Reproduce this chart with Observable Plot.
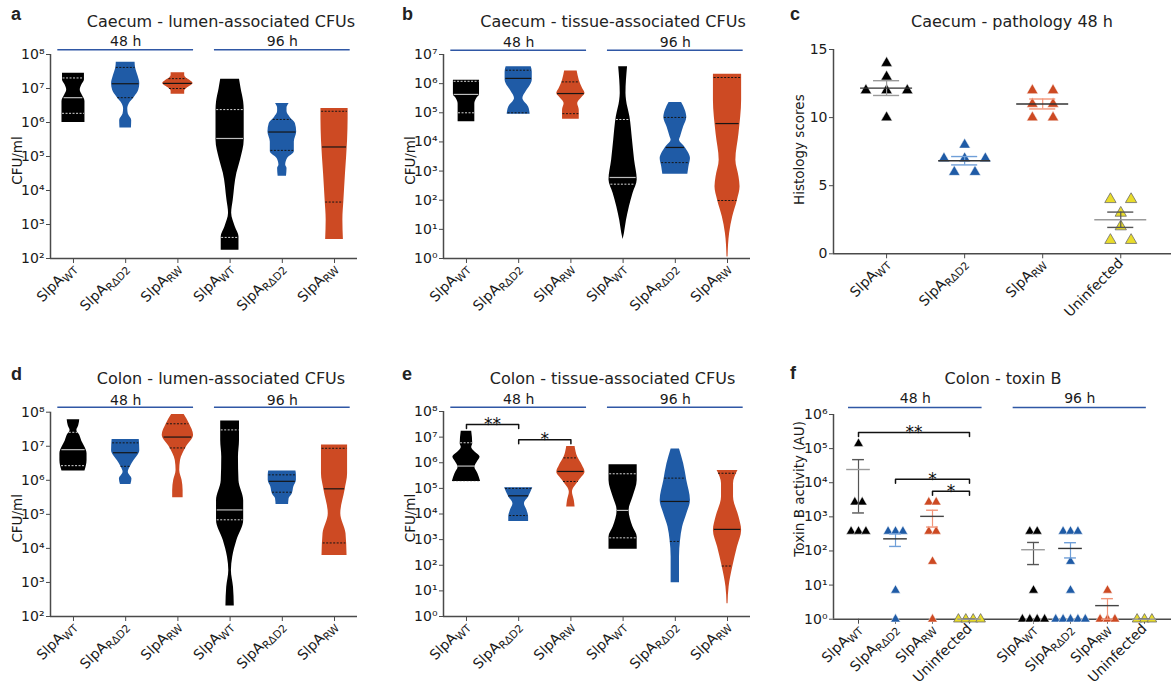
<!DOCTYPE html>
<html><head><meta charset="utf-8">
<script src="https://cdn.jsdelivr.net/npm/d3@7"></script>
<script src="https://cdn.jsdelivr.net/npm/@observablehq/plot@0.6"></script>
<style>
body{margin:0;background:#fff;}
#fig{position:relative;width:1171px;height:684px;overflow:hidden;font-family:"DejaVu Sans",sans-serif;background:#fff;}
.t{position:absolute;white-space:nowrap;line-height:1;color:#222;}
</style></head><body><div id="fig"></div>
<script>
// ================= DATA =================
const violinLabels = ["SlpA_WT", "SlpA_RΔD2", "SlpA_RW", "SlpA_WT", "SlpA_RΔD2", "SlpA_RW"];
const violinSpans = [{label: "48 h", from: -0.3, to: 2.3}, {label: "96 h", from: 2.7, to: 5.3}];

// violin profiles: [log10 CFU/ml, half-width as fraction of category step]
// order: WT 48h, RΔD2 48h, RW 48h, WT 96h, RΔD2 96h, RW 96h
const caecumLumenProfiles = [
  [[6.0,.22],[6.3,.22],[6.62,.22],[6.8,.17],[6.95,.13],[7.1,.16],[7.25,.21],[7.45,.21]],
  [[5.84,.11],[6.06,.115],[6.25,.05],[6.4,.04],[6.55,.07],[6.75,.17],[6.95,.25],[7.14,.27],[7.35,.24],[7.6,.19],[7.77,.18]],
  [[6.83,.13],[6.92,.13],[7.0,.17],[7.07,.24],[7.15,.29],[7.23,.24],[7.31,.16],[7.38,.13],[7.46,.13]],
  [[2.24,.17],[2.64,.17],[2.93,.1],[3.33,.03],[3.71,.06],[4.51,.13],[4.9,.2],[5.48,.27],[6.0,.27],[6.36,.27],[6.6,.26],[7.0,.21],[7.27,.18]],
  [[4.42,.08],[4.65,.09],[4.74,.065],[4.94,.1],[5.14,.23],[5.43,.23],[5.72,.275],[5.97,.25],[6.15,.15],[6.32,.09],[6.42,.09],[6.56,.13]],
  [[2.56,.17],[3.13,.16],[3.71,.18],[4.5,.21],[5.48,.25],[6.1,.26],[6.41,.26]]
];
const caecumLumenQuartiles = [[6.27,6.73,7.31],[6.73,7.14,7.62],[7.0,7.15,7.29],[2.62,5.53,6.38],[5.18,5.72,6.09],[3.66,5.28,6.33]];

const caecumTissueProfiles = [
  [[4.69,.16],[5.3,.16],[5.5,.2],[5.62,.25],[6.12,.25]],
  [[4.95,.22],[5.2,.19],[5.49,.08],[5.75,.15],[6.0,.24],[6.12,.26],[6.4,.26],[6.58,.24]],
  [[4.78,.16],[5.09,.16],[5.32,.13],[5.5,.2],[5.66,.27],[5.85,.22],[6.12,.16],[6.43,.12]],
  [[0.65,0],[0.86,.025],[1.31,.065],[1.77,.12],[2.23,.19],[2.69,.27],[3.37,.22],[4.06,.18],[4.86,.13],[5.43,.065],[5.66,.055],[6.58,.085]],
  [[2.89,.24],[3.14,.26],[3.43,.29],[3.6,.26],[3.85,.17],[4.06,.08],[4.17,.1],[4.52,.16],[4.84,.22],[5.09,.19],[5.35,.12]],
  [[0.05,.01],[0.86,.04],[1.43,.1],[2.0,.19],[2.46,.24],[2.8,.22],[3.37,.16],[4.29,.22],[5.43,.27],[6.32,.27]]
];
const caecumTissueQuartiles = [[5.0,5.63,6.08],[5.0,6.18,6.46],[4.97,5.66,6.06],[2.55,2.78,4.77],[3.29,3.81,4.84],[1.99,4.63,6.21]];

const colonLumenProfiles = [
  [[6.27,.22],[6.58,.26],[6.78,.26],[6.97,.22],[7.15,.16],[7.32,.12],[7.46,.065],[7.6,.1],[7.78,.12]],
  [[5.88,.1],[6.04,.12],[6.24,.05],[6.4,.09],[6.58,.16],[6.87,.27],[7.2,.26]],
  [[5.49,.1],[5.7,.1],[6.0,.08],[6.29,.035],[6.58,.05],[6.97,.16],[7.32,.3],[7.66,.22],[7.93,.12]],
  [[2.31,.08],[2.86,.065],[3.35,.025],[3.74,.05],[4.23,.13],[4.82,.26],[5.4,.26],[5.99,.17],[6.68,.16],[7.17,.18],[7.74,.18]],
  [[5.29,.12],[5.46,.13],[5.6,.19],[5.8,.22],[6.0,.27],[6.15,.27],[6.27,.26]],
  [[3.79,.24],[4.43,.22],[5.02,.12],[5.7,.2],[6.19,.25],[7.04,.25]]
];
const colonLumenQuartiles = [[6.43,6.9,7.41],[6.41,6.81,7.1],[6.95,7.27,7.66],[4.84,5.13,7.48],[5.65,5.97,6.16],[4.16,5.75,6.94]];

const colonTissueProfiles = [
  [[5.27,.27],[5.57,.22],[5.83,.16],[6.0,.2],[6.22,.26],[6.45,.15],[6.6,.1],[6.74,.12],[7.23,.1]],
  [[3.71,.19],[3.88,.19],[4.14,.16],[4.4,.11],[4.66,.19],[5.02,.27]],
  [[4.27,.08],[4.53,.065],[4.85,.03],[5.31,.16],[5.63,.27],[5.89,.22],[6.22,.13],[6.63,.08]],
  [[2.62,.27],[3.1,.27],[3.49,.19],[4.14,.115],[4.66,.19],[5.31,.27],[5.92,.27]],
  [[1.32,.08],[2.32,.08],[2.97,.1],[3.49,.14],[4.0,.22],[4.53,.29],[5.31,.22],[5.96,.16],[6.54,.08]],
  [[0.5,.01],[1.15,.03],[1.93,.1],[2.71,.19],[3.36,.27],[3.88,.22],[4.66,.115],[5.18,.115],[5.7,.2]]
];
const colonTissueQuartiles = [[5.27,5.87,6.78],[3.94,4.71,5.0],[5.27,5.66,6.19],[3.07,4.14,5.57],[2.93,4.49,5.4],[1.97,3.4,5.59]];
const colonTissueSig = [{from: 0, to: 1, y: 3.1e7, label: "**"}, {from: 1, to: 2, y: 7.9e6, label: "*"}];

const histologyLabels = ["SlpA_WT", "SlpA_RΔD2", "SlpA_RW", "Uninfected"];
const histologyScores = [[14,13,12,12,12,10],[8,7,7,7,6,6],[12,12,11,11,10,10],[4,4,3,2,1,1]];

const toxinLabels = ["SlpA_WT", "SlpA_RΔD2", "SlpA_RW", "Uninfected", "SlpA_WT", "SlpA_RΔD2", "SlpA_RW", "Uninfected"];
const toxinValues = [
  [1.4e5, 2700, 2700, 375, 375, 375],
  [375, 375, 375, 7, 1],
  [2700, 2700, 375, 375, 49, 1],
  [1, 1, 1, 1],
  [375, 375, 7, 1, 1, 1, 1],
  [375, 375, 375, 49, 7, 1, 1, 1, 1, 1],
  [7, 1, 1, 1],
  [1, 1, 1]
];
const toxinSpans = [{label: "48 h", from: -0.27, to: 3.34}, {label: "96 h", from: 4.18, to: 7.78}];
const toxinSig = [{from: 0, to: 3, y: 2.95e5, label: "**"}, {from: 1, to: 3, y: 1.26e4, label: "*"}, {from: 2, to: 3, y: 5.6e3, label: "*"}];

// ================= STYLE / HELPERS =================
const COL = ["#000000", "#1f5ba6", "#cd4a23", "#e9dc2a"];
const QCOL = ["#d6d6d6", "#151515", "#151515"];
const AXIS = "#4a4a4a";
const SPAN = "#2f57a5";
const FONT = "DejaVu Sans";
const SUP = "⁰¹²³⁴⁵⁶⁷⁸⁹";
const pow10 = d => "10" + String(Math.round(Math.log10(d))).split("").map(c => SUP[+c]).join("");
const fig = document.getElementById("fig");

function place(svg, left, top) {
  svg.style.position = "absolute";
  svg.style.left = left + "px";
  svg.style.top = top + "px";
  svg.style.overflow = "visible";
  d3.select(svg).selectAll('g[aria-label="x-axis tick label"] text').each(function () {
    const t = this.textContent;
    if (!t.includes("_")) return;
    const [base, sub] = t.split("_");
    this.textContent = base;
    d3.select(this).append("tspan").attr("font-size", "0.76em").attr("dy", "0.3em").text(sub);
  });
  fig.appendChild(svg);
}

function label(text, x, baseline, {size = 16, anchor = "middle", weight = "normal", family = FONT} = {}) {
  const d = document.createElement("div");
  d.className = "t";
  d.textContent = text;
  d.style.fontSize = size + "px";
  d.style.fontWeight = weight;
  d.style.fontFamily = family;
  d.style.top = (baseline - 0.846 * size) + "px";
  d.style.left = x + "px";
  if (anchor === "middle") d.style.transform = "translateX(-50%)";
  fig.appendChild(d);
}

function hwAt(prof, lg) {
  for (let k = 0; k < prof.length - 1; k++) {
    const [a, wa] = prof[k], [b, wb] = prof[k + 1];
    if ((lg - a) * (lg - b) <= 0) return a === b ? Math.max(wa, wb) : wa + (wb - wa) * (lg - a) / (b - a);
  }
  return 0;
}

function axisMarks({xDomain, yDomain, xTicks, xLabels, yTicks, yFormat, ylabel, ylabelDx, ylabelDy = 0}) {
  return [
    Plot.ruleX([xDomain[0]], {stroke: AXIS, strokeWidth: 1.5}),
    Plot.ruleY([yDomain[0]], {stroke: AXIS, strokeWidth: 1.5}),
    Plot.axisY(yTicks, {tickFormat: yFormat, tickSize: 4, tickPadding: 2, fontSize: 14, label: null, stroke: AXIS, fill: "#1a1a1a"}),
    Plot.axisX(xTicks, {tickFormat: d => xLabels[xTicks.indexOf(d)], tickRotate: -45, tickSize: 5, tickPadding: 2, fontSize: 14, label: null, stroke: AXIS, fill: "#1a1a1a"}),
    Plot.text([ylabel], {frameAnchor: "left", textAnchor: "middle", rotate: -90, dx: ylabelDx, dy: ylabelDy, fontSize: 13.5, fill: "#1a1a1a"})
  ];
}

function spanMarks(spans, yTop, lineDy, textDy) {
  return [
    Plot.ruleY(spans, {y: () => yTop, x1: "from", x2: "to", dy: lineDy, stroke: SPAN, strokeWidth: 1.6}),
    Plot.text(spans, {x: d => (d.from + d.to) / 2, y: () => yTop, text: "label", dy: textDy, fontSize: 14, fill: "#1a1a1a"})
  ];
}

function sigMarks(sig, pos, dropFactor) {
  const pts = sig.flatMap((s, k) => [
    {k, x: pos(s.from), y: s.y / dropFactor},
    {k, x: pos(s.from), y: s.y},
    {k, x: pos(s.to), y: s.y},
    {k, x: pos(s.to), y: s.y / dropFactor}
  ]);
  return [
    Plot.line(pts, {x: "x", y: "y", z: "k", stroke: "#111", strokeWidth: 1.5}),
    Plot.text(sig, {x: d => (pos(d.from) + pos(d.to)) / 2, y: "y", text: "label", fontSize: 17, fill: "#111"})
  ];
}

function violinPanel({profiles, quartiles, decades, sig, left, top, width, height, mt, mb, ml, mr, lineDy, textDy}) {
  const yDomain = [10 ** decades[0], 10 ** decades[1]];
  const xDomain = [-0.44, 5.44];
  const xTicks = d3.range(6);
  const yTicks = d3.range(decades[0], decades[1] + 1).map(e => 10 ** e);
  const marks = axisMarks({xDomain, yDomain, xTicks, xLabels: violinLabels, yTicks, yFormat: pow10, ylabel: "CFU/ml", ylabelDx: -33, ylabelDy: 4});
  profiles.forEach((prof, i) => {
    const pts = prof.slice().sort((p, q) => p[0] - q[0]).map(([lg, hw]) => ({y: 10 ** lg, x1: i - hw, x2: i + hw}));
    marks.push(Plot.areaX(pts, {y: "y", x1: "x1", x2: "x2", fill: COL[i % 3], curve: "monotone-y"}));
    const q = quartiles[i].map((lg, k) => {
      const hw = hwAt(prof, lg) * 0.95;
      return {y: 10 ** lg, x1: i - hw, x2: i + hw, median: k === 1};
    });
    marks.push(Plot.ruleY(q.filter(d => !d.median), {y: "y", x1: "x1", x2: "x2", stroke: QCOL[i % 3], strokeWidth: 1, strokeDasharray: "2,1.5"}));
    marks.push(Plot.ruleY(q.filter(d => d.median), {y: "y", x1: "x1", x2: "x2", stroke: i % 3 === 0 ? "#bdbdbd" : QCOL[i % 3], strokeWidth: 1.2}));
  });
  marks.push(...spanMarks(violinSpans, yDomain[1], lineDy, textDy));
  if (sig) {
    const pxPerDecade = (height - mt - mb) / (decades[1] - decades[0]);
    marks.push(...sigMarks(sig, i => i, 10 ** (4 / pxPerDecade)));
  }
  const svg = Plot.plot({
    width, height, marginTop: mt, marginBottom: mb, marginLeft: ml, marginRight: mr,
    style: {fontFamily: FONT, fontSize: "14px", color: "#1a1a1a", background: "transparent", overflow: "visible"},
    x: {domain: xDomain},
    y: {type: "log", domain: yDomain},
    marks
  });
  place(svg, left, top);
}

function dotPanel({labels, groups, pos, xDomain, yScale, yTicks, yFormat, ylabel, ylabelDy, spacing, meanHW, capHW, r, meanCol, errCol, colorIdx, spans, sig, sigDrop, left, top, width, height, mt, mb, ml, mr, lineDy, textDy}) {
  const yDomain = yScale.domain;
  const xTicks = labels.map((_, i) => pos(i));
  const marks = axisMarks({xDomain, yDomain, xTicks, xLabels: labels, yTicks, yFormat, ylabel, ylabelDx: -34, ylabelDy});
  const floor = yDomain[0];
  groups.forEach((vals, i) => {
    const c = colorIdx(i);
    const counts = d3.rollup(vals, v => v.length, d => d);
    const seen = new Map();
    const pts = vals.map(v => {
      const n = counts.get(v), k = seen.get(v) || 0;
      seen.set(v, k + 1);
      return {x: pos(i) + (k - (n - 1) / 2) * spacing, y: v};
    });
    marks.push(Plot.dot(pts, {x: "x", y: "y", symbol: "triangle", r, fill: COL[c], stroke: c === 3 ? "#6b6b6b" : "#ffffff", strokeWidth: c === 3 ? 0.8 : 0.5}));
    const m = d3.mean(vals), s = (d3.deviation(vals) || 0) / Math.sqrt(vals.length);
    const lo = Math.max(floor, m - s), hi = m + s;
    const xc = pos(i);
    marks.push(Plot.ruleX([{x: xc, y1: lo, y2: hi}], {x: "x", y1: "y1", y2: "y2", stroke: errCol[c], strokeWidth: 1.2}));
    marks.push(Plot.ruleY([lo, hi], {y: d => d, x1: xc - capHW, x2: xc + capHW, stroke: errCol[c], strokeWidth: 1.4}));
    marks.push(Plot.ruleY([m], {y: d => d, x1: xc - meanHW, x2: xc + meanHW, stroke: meanCol[c], strokeWidth: 1.4}));
  });
  if (spans) marks.push(...spanMarks(spans, yDomain[1], lineDy, textDy));
  if (sig) marks.push(...sigMarks(sig, pos, sigDrop));
  const svg = Plot.plot({
    width, height, marginTop: mt, marginBottom: mb, marginLeft: ml, marginRight: mr,
    style: {fontFamily: FONT, fontSize: "14px", color: "#1a1a1a", background: "transparent", overflow: "visible"},
    x: {domain: xDomain},
    y: yScale,
    marks
  });
  place(svg, left, top);
}

// ================= PANELS =================
violinPanel({profiles: caecumLumenProfiles, quartiles: caecumLumenQuartiles, decades: [2, 8],
  left: 0, top: 0, width: 390, height: 340, mt: 54, mb: 82, ml: 50, mr: 33, lineDy: -4.7, textDy: -12.5});
violinPanel({profiles: caecumTissueProfiles, quartiles: caecumTissueQuartiles, decades: [0, 7],
  left: 390, top: 0, width: 390, height: 340, mt: 54, mb: 82, ml: 53, mr: 30, lineDy: -4.3, textDy: -12});
violinPanel({profiles: colonLumenProfiles, quartiles: colonLumenQuartiles, decades: [2, 8],
  left: 0, top: 340, width: 390, height: 344, mt: 71.7, mb: 68, ml: 50, mr: 33, lineDy: -5, textDy: -11.7});
violinPanel({profiles: colonTissueProfiles, quartiles: colonTissueQuartiles, decades: [0, 8], sig: colonTissueSig,
  left: 390, top: 340, width: 390, height: 344, mt: 71, mb: 68, ml: 53, mr: 30, lineDy: -4.3, textDy: -12});

dotPanel({labels: histologyLabels, groups: histologyScores, pos: i => i, xDomain: [-0.68, 3.65],
  yScale: {type: "linear", domain: [0, 15]}, yTicks: [0, 5, 10, 15], yFormat: d3.format("d"), ylabel: "Histology scores", ylabelDy: -2,
  spacing: 0.265, meanHW: 0.333, capHW: 0.167, r: 4.2,
  meanCol: ["#333", "#333", "#333", "#9a9a9a"], errCol: ["#9a9a9a", "#6f9fd8", "#f29478", "#555"], colorIdx: i => i,
  left: 780, top: 0, width: 391, height: 340, mt: 49, mb: 86.7, ml: 53, mr: 0});

const toxinPos = i => i + (i >= 4 ? 0.73 : 0);
dotPanel({labels: toxinLabels, groups: toxinValues, pos: toxinPos, xDomain: [-0.676, 8.46],
  yScale: {type: "log", domain: [1, 1e6]}, yTicks: d3.range(0, 7).map(e => 10 ** e), yFormat: pow10, ylabel: "Toxin B activity (AU)", ylabelDy: -28,
  spacing: 0.2, meanHW: 0.32, capHW: 0.16, r: 3.6,
  meanCol: ["#9a9a9a", "#333", "#444", "#9a9a9a"], errCol: ["#555", "#6f9fd8", "#f29478", "#555"], colorIdx: i => i % 4,
  spans: toxinSpans, sig: toxinSig, sigDrop: 10 ** (4 / 34.1),
  left: 780, top: 340, width: 391, height: 344, mt: 74, mb: 65.3, ml: 53, mr: 0, lineDy: -7, textDy: -16});

// ================= TITLES =================
label("Caecum - lumen-associated CFUs", 221, 27.3);
label("Caecum - tissue-associated CFUs", 613, 27.3);
label("Caecum - pathology 48 h", 1012, 27.3);
label("Colon - lumen-associated CFUs", 221, 385);
label("Colon - tissue-associated CFUs", 612.5, 385);
label("Colon - toxin B", 1003, 385);
const letterOpts = {size: 18, anchor: "start", weight: "bold", family: "Liberation Sans"};
label("a", 11, 20, letterOpts);
label("b", 402, 20, letterOpts);
label("c", 790, 20, letterOpts);
label("d", 11, 380, letterOpts);
label("e", 402, 380, letterOpts);
label("f", 790, 379, letterOpts);
</script></body></html>
